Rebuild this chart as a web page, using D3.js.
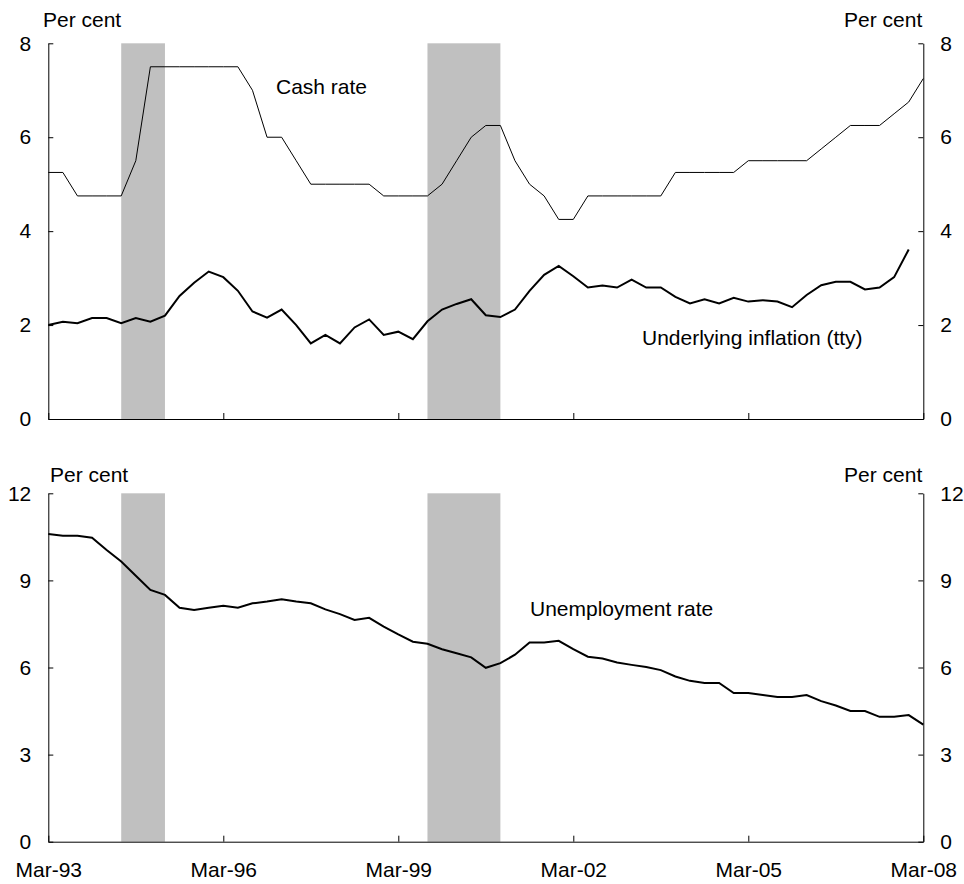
<!DOCTYPE html>
<html>
<head>
<meta charset="utf-8">
<script src="https://cdn.jsdelivr.net/npm/d3@7"></script>
<style>
  html, body { margin: 0; padding: 0; background: #fff; }
  svg text { font-family: "Liberation Sans", Arial, sans-serif; fill: #000; }
</style>
</head>
<body>
<svg id="chart" width="964" height="884"></svg>
<script>
// Quarterly observations, Mar-93 (index 0) to Mar-08 (index 60)
const cashRate = [5.25,5.25,4.75,4.75,4.75,4.75,5.5,7.5,7.5,7.5,7.5,7.5,7.5,7.5,7.0,6.0,6.0,5.5,5.0,5.0,5.0,5.0,5.0,4.75,4.75,4.75,4.75,5.0,5.5,6.0,6.25,6.25,5.5,5.0,4.75,4.25,4.25,4.75,4.75,4.75,4.75,4.75,4.75,5.25,5.25,5.25,5.25,5.25,5.5,5.5,5.5,5.5,5.5,5.75,6.0,6.25,6.25,6.25,6.5,6.75,7.25];
const underlyingInflation = [2.0,2.07,2.04,2.15,2.15,2.04,2.15,2.07,2.2,2.62,2.9,3.14,3.02,2.73,2.29,2.16,2.33,2.0,1.61,1.79,1.61,1.95,2.12,1.79,1.86,1.7,2.08,2.33,2.45,2.55,2.21,2.17,2.33,2.73,3.07,3.26,3.04,2.8,2.84,2.8,2.97,2.8,2.8,2.6,2.46,2.55,2.46,2.58,2.5,2.53,2.5,2.38,2.64,2.85,2.92,2.92,2.76,2.8,3.02,3.61];
const unemploymentRate = [10.6,10.54,10.54,10.47,10.05,9.65,9.16,8.67,8.5,8.06,7.98,8.06,8.13,8.06,8.21,8.27,8.35,8.27,8.21,8.0,7.84,7.64,7.71,7.41,7.14,6.89,6.82,6.63,6.49,6.35,5.99,6.15,6.44,6.86,6.86,6.92,6.63,6.37,6.31,6.17,6.09,6.02,5.91,5.69,5.54,5.47,5.47,5.12,5.12,5.05,4.98,4.98,5.05,4.84,4.69,4.5,4.5,4.3,4.3,4.36,4.03];
// Shaded periods (quarter index start, end)
const shadedPeriods = [[5, 8], [26, 31]];
// X tick positions (quarter index) and labels
const xTickIndex = [0, 12, 24, 36, 48, 60];
const xTickLabels = ["Mar-93", "Mar-96", "Mar-99", "Mar-02", "Mar-05", "Mar-08"];
const topTicks = [0, 2, 4, 6, 8];
const bottomTicks = [0, 3, 6, 9, 12];

const svg = d3.select("#chart");
const FS = 21;
const left = 48.3, right = 923.3;
const x = d3.scaleLinear().domain([0, 60]).range([left, right]);

const panels = [
  { top: 43.3, bottom: 419, domain: [0, 8], ticks: topTicks, showX: false, perY: 27, perLeftX: 43,
    series: [
      { data: cashRate, width: 1 },
      { data: underlyingInflation, width: 2 }
    ],
    labels: [
      { text: "Cash rate", x: 276, y: 94 },
      { text: "Underlying inflation (tty)", x: 642, y: 345 }
    ]
  },
  { top: 493.3, bottom: 841.7, domain: [0, 12], ticks: bottomTicks, showX: true, perY: 482, perLeftX: 50,
    series: [
      { data: unemploymentRate, width: 2 }
    ],
    labels: [
      { text: "Unemployment rate", x: 530, y: 616 }
    ]
  }
];

panels.forEach(p => {
  const y = d3.scaleLinear().domain(p.domain).range([p.bottom, p.top]);
  const g = svg.append("g");

  // shading
  g.selectAll("rect.shade").data(shadedPeriods).join("rect")
    .attr("class", "shade")
    .attr("x", d => x(d[0]))
    .attr("width", d => x(d[1]) - x(d[0]))
    .attr("y", p.top)
    .attr("height", p.bottom - p.top)
    .attr("fill", "#c0c0c0");

  // lines
  const line = d3.line().x((d, i) => x(i)).y(d => y(d));
  p.series.forEach(s => {
    g.append("path").datum(s.data)
      .attr("d", line)
      .attr("fill", "none")
      .attr("stroke", "#000")
      .attr("stroke-width", s.width)
      .attr("stroke-linejoin", "miter");
  });

  // axes
  const styleAxis = sel => {
    sel.selectAll("path.domain").attr("stroke", "#000").attr("stroke-width", 1);
    sel.selectAll(".tick line").attr("stroke", "#000").attr("stroke-width", 1);
    sel.selectAll("text").attr("font-size", FS).attr("font-family", "Liberation Sans, Arial, sans-serif").attr("fill", "#000");
  };

  g.append("g").attr("transform", `translate(${left},0)`)
    .call(d3.axisLeft(y).tickValues(p.ticks).tickFormat(d3.format("d")).tickSizeInner(-5).tickSizeOuter(0).tickPadding(17))
    .call(styleAxis);

  g.append("g").attr("transform", `translate(${right},0)`)
    .call(d3.axisRight(y).tickValues(p.ticks).tickFormat(d3.format("d")).tickSizeInner(-5).tickSizeOuter(0).tickPadding(17))
    .call(styleAxis);

  const xAxis = d3.axisBottom(x).tickValues(xTickIndex)
    .tickFormat((d, i) => p.showX ? xTickLabels[i] : "")
    .tickSizeInner(-6).tickSizeOuter(0).tickPadding(20);
  g.append("g").attr("transform", `translate(0,${p.bottom})`)
    .call(xAxis)
    .call(styleAxis);

  // "Per cent" units
  g.append("text").attr("x", p.perLeftX).attr("y", p.perY).attr("font-size", FS).text("Per cent");
  g.append("text").attr("x", right - 1).attr("y", p.perY).attr("font-size", FS).attr("text-anchor", "end").text("Per cent");

  // series labels
  p.labels.forEach(l => {
    g.append("text").attr("x", l.x).attr("y", l.y).attr("font-size", FS).text(l.text);
  });
});
</script>
</body>
</html>
